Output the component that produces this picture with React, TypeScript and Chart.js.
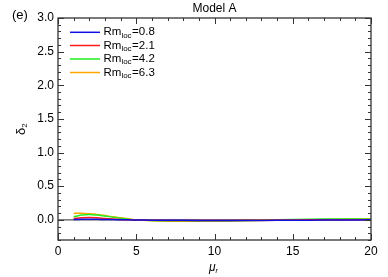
import React, { useEffect, useRef } from "react";
import { Chart, registerables } from "chart.js";

Chart.register(...registerables);

const xValues = [1, 1.5, 2, 2.5, 3, 3.5, 4, 4.5, 5, 6, 8, 10, 12, 14, 16, 18, 20];
const seriesRm08 = [0.005, 0.008, 0.01, 0.008, 0.005, 0.003, 0.001, 0, -0.002, -0.005, -0.008, -0.01, -0.01, -0.008, -0.006, -0.003, 0.0];
const seriesRm21 = [0.02, 0.03, 0.033, 0.03, 0.02, 0.012, 0.005, 0, -0.003, -0.007, -0.01, -0.01, -0.008, -0.004, 0.0, 0.002, 0.0];
const seriesRm42 = [0.045, 0.07, 0.08, 0.07, 0.055, 0.04, 0.025, 0.01, 0, -0.01, -0.015, -0.015, -0.01, 0.0, 0.01, 0.012, 0.01];
const seriesRm63 = [0.095, 0.097, 0.09, 0.08, 0.065, 0.045, 0.03, 0.015, 0, -0.012, -0.02, -0.02, -0.015, -0.008, 0.0, 0.008, 0.015];
const legendValues = ["0.8", "2.1", "4.2", "6.3"];
const seriesColors = ["#1010e0", "#ff1a1a", "#22ee22", "#ffa500"];
const xTicks = [0, 5, 10, 15, 20];
const yTicks = [0.0, 0.5, 1.0, 1.5, 2.0, 2.5, 3.0];

const FONT = "'Liberation Sans', Arial, sans-serif";
const AXIS = "#333";

const decorPlugin = {
  id: "decor",
  beforeDatasetsDraw(chart: any) {
    const { ctx, chartArea: a, scales } = chart;
    const y0 = scales.y.getPixelForValue(0);
    ctx.save();
    ctx.strokeStyle = "#555";
    ctx.lineWidth = 1.2;
    ctx.beginPath();
    ctx.moveTo(a.left, y0);
    ctx.lineTo(a.right, y0);
    ctx.stroke();
    ctx.restore();
  },
  afterDraw(chart: any) {
    const { ctx, chartArea: a, scales } = chart;
    const xs = scales.x, ys = scales.y;
    ctx.save();
    ctx.strokeStyle = AXIS;
    ctx.lineWidth = 1.3;
    ctx.strokeRect(a.left, a.top, a.right - a.left, a.bottom - a.top);
    ctx.lineWidth = 1;
    ctx.beginPath();
    for (let v = 0; v <= 20; v += 1) {
      const px = Math.round(xs.getPixelForValue(v)) + 0.5;
      const len = v % 5 === 0 ? 6 : 3;
      ctx.moveTo(px, a.bottom); ctx.lineTo(px, a.bottom - len);
      ctx.moveTo(px, a.top); ctx.lineTo(px, a.top + len);
    }
    for (let i = -3; i <= 30; i++) {
      const v = i / 10;
      const py = Math.round(ys.getPixelForValue(v)) + 0.5;
      const len = i % 5 === 0 ? 6 : 3;
      ctx.moveTo(a.left, py); ctx.lineTo(a.left + len, py);
      ctx.moveTo(a.right, py); ctx.lineTo(a.right - len, py);
    }
    ctx.stroke();

    ctx.fillStyle = "#000";
    ctx.textBaseline = "middle";
    ctx.font = `12px ${FONT}`;
    ctx.textAlign = "center";
    ctx.fillText("Model A", (a.left + a.right) / 2, 9);
    ctx.textAlign = "left";
    ctx.font = `13px ${FONT}`;
    ctx.fillText("(e)", 12, 15);

    // legend
    const rowsY = [32.3, 45.5, 59, 72.5];
    for (let i = 0; i < legendValues.length; i++) {
      const y = rowsY[i];
      ctx.strokeStyle = seriesColors[i];
      ctx.lineWidth = 1.5;
      ctx.beginPath();
      ctx.moveTo(70, y); ctx.lineTo(100, y);
      ctx.stroke();
      ctx.font = `11.5px ${FONT}`;
      ctx.fillText("Rm", 103.5, y);
      const w = ctx.measureText("Rm").width;
      ctx.font = `8px ${FONT}`;
      ctx.fillText("loc", 103.5 + w, y + 3);
      const w2 = ctx.measureText("loc").width;
      ctx.font = `11.5px ${FONT}`;
      ctx.fillText("=" + legendValues[i], 103.5 + w + w2 + 0.5, y);
    }

    // x label
    ctx.font = `italic 12px ${FONT}`;
    ctx.textAlign = "left";
    const mx = 209;
    ctx.fillText("\u03bc", mx, 268);
    const mw = ctx.measureText("\u03bc").width;
    ctx.font = `italic 7px ${FONT}`;
    ctx.fillText("r", mx + mw, 271);

    // y label
    ctx.translate(21, 131);
    ctx.rotate(-Math.PI / 2);
    ctx.font = `13px ${FONT}`;
    ctx.textAlign = "left";
    ctx.fillText("\u03b4", -4, 0);
    const dw = ctx.measureText("\u03b4").width;
    ctx.font = `8px ${FONT}`;
    ctx.fillText("2", -4 + dw, 4);
    ctx.restore();
  },
};

export default function App() {
  const ref = useRef<HTMLCanvasElement>(null);
  useEffect(() => {
    const series = [seriesRm08, seriesRm21, seriesRm42, seriesRm63];
    const chart = new Chart(ref.current!, {
      type: "line",
      data: {
        datasets: series.map((s, i) => ({
          label: "Rm_loc=" + legendValues[i],
          data: xValues.map((x, j) => ({ x, y: s[j] })),
          borderColor: seriesColors[i],
          borderWidth: 1.5,
          pointRadius: 0,
          tension: 0.3,
          fill: false,
        })),
      },
      options: {
        responsive: false,
        animation: false,
        layout: { padding: { top: 18, right: 17, left: 0, bottom: 0 } },
        plugins: { legend: { display: false }, tooltip: { enabled: false }, title: { display: false } },
        scales: {
          x: {
            type: "linear",
            min: 0,
            max: 20,
            grid: { display: false, drawTicks: false },
            border: { display: false },
            afterBuildTicks: (s: any) => { s.ticks = xTicks.map((v) => ({ value: v })); },
            afterFit: (s: any) => { s.height = 37; },
            ticks: { padding: 4, maxRotation: 0, color: "#000", font: { family: FONT, size: 12 }, callback: (v: any) => String(v) },
          },
          y: {
            type: "linear",
            min: -0.3,
            max: 3.0,
            grid: { display: false, drawTicks: false },
            border: { display: false },
            afterBuildTicks: (s: any) => { s.ticks = yTicks.map((v) => ({ value: v })); },
            afterFit: (s: any) => { s.width = 58; },
            ticks: { padding: 4, color: "#000", font: { family: FONT, size: 12 }, callback: (v: any) => Number(v).toFixed(1) },
          },
        },
      },
      plugins: [decorPlugin],
    });
    return () => chart.destroy();
  }, []);
  return (
    <div style={{ position: "absolute", left: 0, top: 0, width: 388, height: 277, background: "#fff" }}>
      <canvas ref={ref} width={388} height={277} />
    </div>
  );
}
